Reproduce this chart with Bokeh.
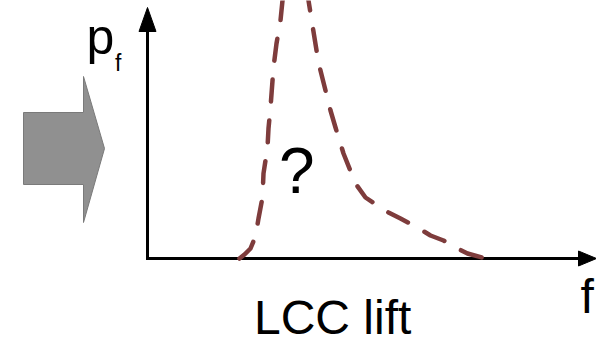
from bokeh.plotting import figure
from bokeh.models import Range1d
from bokeh.core.properties import value
from bokeh.embed import file_html
from bokeh.resources import INLINE

# ---- data (f, p_f); origin at the axes' corner ----
curve_f = [92, 97, 103, 108, 111, 115, 116, 120, 121, 123, 126, 129, 133, 135,
           140, 148, 156,
           161, 165, 171, 176, 183, 188, 196, 208, 218, 230, 241, 253,
           270, 283, 296, 310, 320, 338]
curve_p = [0, 4, 10, 22, 40, 61, 85, 111, 130, 151, 191, 215, 238, 258,
           280, 292, 282,
           258, 233, 196, 176, 148, 131, 105, 75, 61, 53, 46, 40,
           31, 23, 18, 10, 5, 0]

# block arrow outline (left of the chart)
block_f = [-124, -64, -64, -43, -64, -64, -124]
block_p = [146, 146, 182, 110, 36, 74, 74]

# axes extents
axis_x_end = 449
axis_y_end = 251
head_len_x, head_half_x = 18, 7.5
head_len_y, head_half_y = 24, 8.5

labels_text = ["LCC lift", "?", "p", "f", "f"]
labels_x = [106.5, 131.5, -61, -32.5, 433]
labels_y = [-59, 88, 222, 196, -38]
labels_size = ["48px", "64px", "50px", "23px", "48px"]

FONT = "Liberation Sans"
CURVE = "#7e3c3c"

p = figure(width=596, height=343, output_backend="svg", toolbar_location=None,
           x_range=Range1d(-147, 449), y_range=Range1d(-85, 258),
           min_border=0, x_axis_location=None, y_axis_location=None,
           outline_line_color=None, background_fill_color="white",
           border_fill_color="white")
p.xgrid.visible = False
p.ygrid.visible = False

# block arrow
p.patch(block_f, block_p, fill_color="#909090", line_color="#7a7a7a", line_width=1)

# axes lines
p.line([0, 0, axis_x_end - head_len_x + 2], [axis_y_end - head_len_y + 2, 0, 0],
       line_color="black", line_width=3, line_join="miter")
# arrow heads
p.patch([axis_x_end - head_len_x, axis_x_end, axis_x_end - head_len_x],
        [head_half_x, 0, -head_half_x], fill_color="black", line_color="black", line_width=1)
p.patch([-head_half_y, 0, head_half_y],
        [axis_y_end - head_len_y, axis_y_end, axis_y_end - head_len_y],
        fill_color="black", line_color="black", line_width=1)

# dashed curve
p.line(curve_f, curve_p, line_color=CURVE, line_width=4.5, line_dash="22 19",
       line_cap="round", line_join="round")

# labels
for t, x, y, s in zip(labels_text, labels_x, labels_y, labels_size):
    p.text(x=[x], y=[y], text=[t], text_font=value(FONT), text_font_size=value(s),
           text_color="black", text_align="left", text_baseline="alphabetic")

open("out.html", "w").write(file_html(p, INLINE))
